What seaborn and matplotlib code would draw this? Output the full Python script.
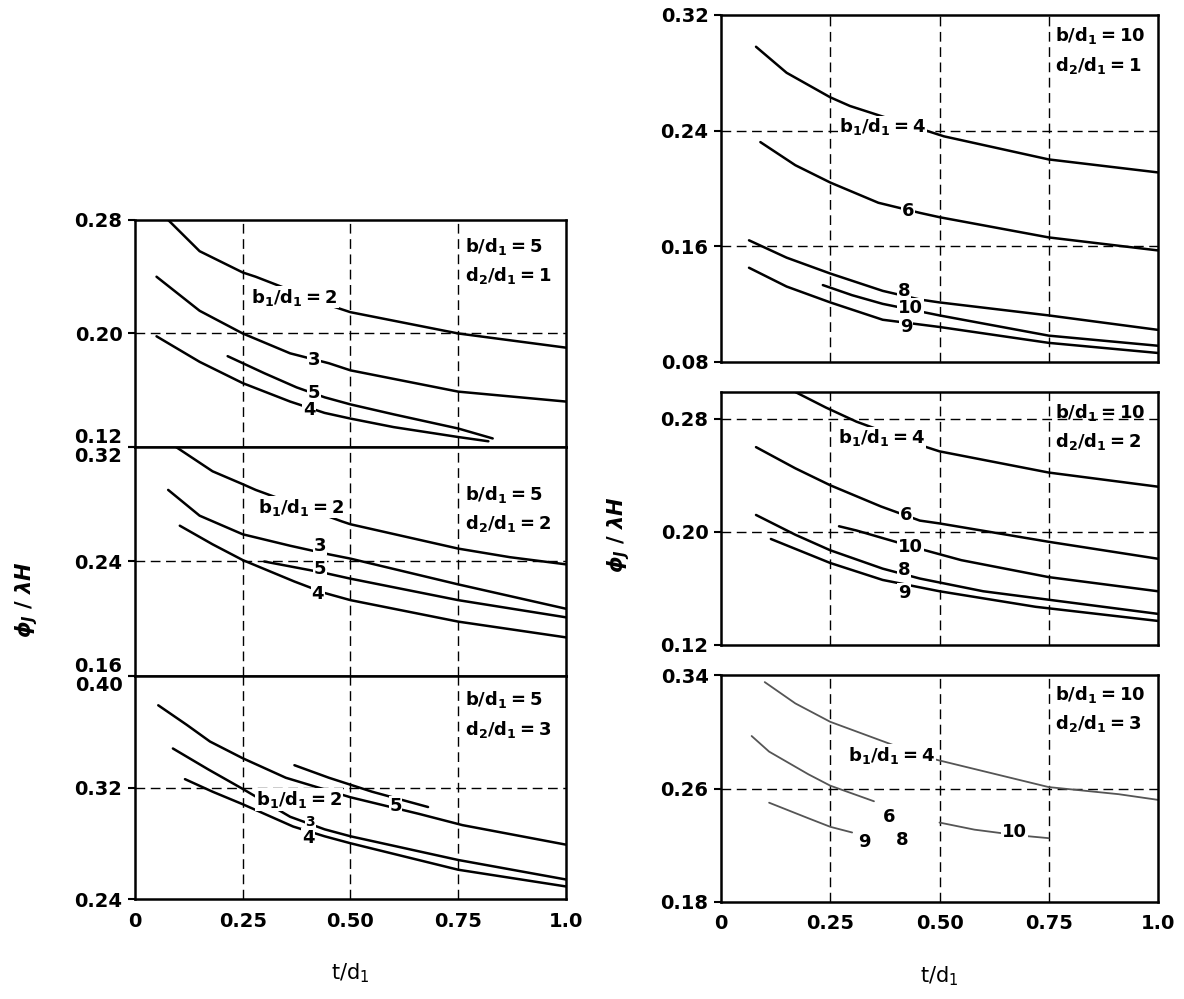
import matplotlib
matplotlib.use("Agg")
import matplotlib.pyplot as plt
import seaborn as sns

# ---------------------------------------------------------------------------
# Data (x = t/d1, y = phi_J / lambda H)
# ---------------------------------------------------------------------------

X_TICKS = [0, 0.25, 0.50, 0.75, 1.0]
X_TICK_LABELS = ["0", "0.25", "0.50", "0.75", "1.0"]

# left column, b/d1 = 5, d2/d1 = 1
L1_CURVES = {
    "2": ([0.077, 0.15, 0.25, 0.28, 0.45, 0.50, 0.75, 1.0],
          [0.280, 0.258, 0.243, 0.240, 0.220, 0.215, 0.200, 0.190]),
    "3": ([0.05, 0.15, 0.25, 0.36, 0.45, 0.50, 0.75, 1.0],
          [0.240, 0.216, 0.200, 0.186, 0.179, 0.174, 0.159, 0.152]),
    "5": ([0.215, 0.30, 0.375, 0.44, 0.50, 0.60, 0.75, 0.83],
          [0.184, 0.172, 0.162, 0.155, 0.150, 0.143, 0.133, 0.126]),
    "4": ([0.05, 0.15, 0.25, 0.36, 0.44, 0.50, 0.60, 0.75, 0.82],
          [0.198, 0.180, 0.165, 0.152, 0.144, 0.140, 0.134, 0.127, 0.124]),
}
# left column, b/d1 = 5, d2/d1 = 2
L2_CURVES = {
    "2": ([0.095, 0.18, 0.25, 0.28, 0.48, 0.50, 0.75, 0.87, 1.0],
          [0.320, 0.303, 0.294, 0.290, 0.268, 0.266, 0.249, 0.243, 0.238]),
    "3": ([0.077, 0.15, 0.25, 0.36, 0.45, 0.50, 0.75, 1.0],
          [0.290, 0.272, 0.259, 0.251, 0.245, 0.242, 0.224, 0.207]),
    "5": ([0.30, 0.37, 0.44, 0.50, 0.75, 1.0],
          [0.240, 0.236, 0.232, 0.228, 0.213, 0.201]),
    "4": ([0.104, 0.18, 0.25, 0.37, 0.44, 0.50, 0.75, 1.0],
          [0.265, 0.252, 0.241, 0.226, 0.218, 0.213, 0.198, 0.187]),
}
# left column, b/d1 = 5, d2/d1 = 3
L3_CURVES = {
    "2": ([0.054, 0.12, 0.174, 0.25, 0.35, 0.50, 0.66, 0.76, 0.88, 1.0],
          [0.379, 0.365, 0.353, 0.341, 0.327, 0.313, 0.301, 0.293, 0.286, 0.279]),
    "5": ([0.37, 0.45, 0.55, 0.68],
          [0.336, 0.327, 0.317, 0.306]),
    "3": ([0.088, 0.17, 0.25, 0.36, 0.44, 0.50, 0.75, 1.0],
          [0.348, 0.333, 0.319, 0.299, 0.290, 0.285, 0.268, 0.254]),
    "4": ([0.116, 0.18, 0.25, 0.367, 0.44, 0.50, 0.75, 1.0],
          [0.326, 0.317, 0.308, 0.292, 0.285, 0.280, 0.261, 0.249]),
}
# right column, b/d1 = 10, d2/d1 = 1
R1_CURVES = {
    "4": ([0.08, 0.15, 0.25, 0.295, 0.51, 0.75, 1.0],
          [0.298, 0.280, 0.263, 0.257, 0.236, 0.220, 0.211]),
    "6": ([0.09, 0.17, 0.25, 0.36, 0.455, 0.50, 0.75, 1.0],
          [0.232, 0.216, 0.204, 0.190, 0.183, 0.180, 0.166, 0.157]),
    "8": ([0.064, 0.15, 0.25, 0.37, 0.455, 0.50, 0.75, 1.0],
          [0.164, 0.152, 0.141, 0.129, 0.123, 0.121, 0.112, 0.102]),
    "10": ([0.233, 0.30, 0.37, 0.50, 0.75, 1.0],
           [0.133, 0.126, 0.120, 0.112, 0.098, 0.091]),
    "9": ([0.064, 0.15, 0.25, 0.37, 0.50, 0.75, 1.0],
          [0.145, 0.132, 0.121, 0.109, 0.104, 0.093, 0.086]),
}
# right column, b/d1 = 10, d2/d1 = 2
R2_CURVES = {
    "4": ([0.17, 0.24, 0.31, 0.47, 0.50, 0.75, 1.0],
          [0.299, 0.288, 0.278, 0.260, 0.257, 0.242, 0.232]),
    "6": ([0.08, 0.17, 0.25, 0.366, 0.455, 0.50, 0.75, 1.0],
          [0.260, 0.245, 0.233, 0.218, 0.208, 0.206, 0.193, 0.181]),
    "10": ([0.27, 0.31, 0.455, 0.55, 0.75, 1.0],
           [0.204, 0.201, 0.188, 0.180, 0.168, 0.158]),
    "8": ([0.08, 0.17, 0.25, 0.37, 0.455, 0.60, 0.75, 1.0],
          [0.212, 0.198, 0.187, 0.174, 0.167, 0.158, 0.152, 0.142]),
    "9": ([0.114, 0.25, 0.37, 0.50, 0.72, 1.0],
          [0.195, 0.178, 0.166, 0.158, 0.147, 0.137]),
}
# right column, b/d1 = 10, d2/d1 = 3 (faded in the original)
R3_CURVES = {
    "4": ([0.10, 0.17, 0.25, 0.47, 0.75, 0.91, 1.0],
          [0.335, 0.320, 0.307, 0.282, 0.261, 0.256, 0.252]),
    "6": ([0.07, 0.11, 0.20, 0.25, 0.35],
          [0.297, 0.286, 0.270, 0.262, 0.251]),
    "10": ([0.50, 0.58, 0.68, 0.75],
           [0.236, 0.231, 0.227, 0.225]),
    "9": ([0.11, 0.20, 0.25, 0.30],
          [0.250, 0.239, 0.233, 0.229]),
}

# curve labels: (text, x, y, fontsize)
L1_LABELS = [(r"$\mathregular{b_1/d_1 = 2}$", 0.27, 0.2257, 13), ("3", 0.40, 0.181, 13),
             ("5", 0.40, 0.158, 13), ("4", 0.39, 0.146, 13)]
L2_LABELS = [(r"$\mathregular{b_1/d_1 = 2}$", 0.285, 0.278, 13), ("3", 0.415, 0.251, 13),
             ("5", 0.415, 0.235, 13), ("4", 0.41, 0.217, 13)]
L3_LABELS = [(r"$\mathregular{b_1/d_1 = 2}$", 0.28, 0.3115, 13), ("5", 0.59, 0.307, 13),
             ("3", 0.395, 0.2955, 10), ("4", 0.387, 0.284, 13)]
R1_LABELS = [(r"$\mathregular{b_1/d_1 = 4}$", 0.27, 0.2425, 13), ("6", 0.414, 0.184, 13),
             ("8", 0.405, 0.129, 13), ("10", 0.405, 0.117, 13), ("9", 0.41, 0.104, 13)]
R2_LABELS = [(r"$\mathregular{b_1/d_1 = 4}$", 0.268, 0.2665, 13), ("6", 0.41, 0.212, 13),
             ("10", 0.405, 0.189, 13), ("8", 0.405, 0.173, 13), ("9", 0.405, 0.157, 13)]
R3_LABELS = [(r"$\mathregular{b_1/d_1 = 4}$", 0.29, 0.2836, 13), ("6", 0.37, 0.240, 13),
             ("10", 0.643, 0.229, 13), ("9", 0.313, 0.222, 13), ("8", 0.40, 0.224, 13)]

L_TITLE = r"$\mathregular{b/d_1 = 5}$"
R_TITLE = r"$\mathregular{b/d_1 = 10}$"

# ---------------------------------------------------------------------------

sns.set_theme(style="ticks")
plt.rcParams["font.family"] = ["DejaVu Sans"]
plt.rcParams["mathtext.fontset"] = "custom"
plt.rcParams["mathtext.rm"] = "DejaVu Sans:bold"
plt.rcParams["mathtext.it"] = "DejaVu Sans:italic:bold"
plt.rcParams["mathtext.bf"] = "DejaVu Sans:bold"
for key in ("text.color", "axes.labelcolor", "xtick.color", "ytick.color"):
    plt.rcParams[key] = "black"

fig = plt.figure(figsize=(11.84, 9.99), dpi=100)


def draw_panel(ax, curves, labels, title, d2, ylim, yticks, gridy,
               title_xy, faded=False, bottom=False):
    color = "#555555" if faded else "black"
    lw = 1.3 if faded else 1.8
    for key, (xs, ys) in curves.items():
        sns.lineplot(x=xs, y=ys, ax=ax, color=color, linewidth=lw,
                     estimator=None, sort=False, legend=False)

    for txt, x, y, fs in labels:
        ax.text(x, y, txt, fontsize=fs, fontweight="bold", va="center",
                ha="left", color="black",
                bbox=dict(facecolor="white", edgecolor="none", pad=0.5))

    # parameter block in the top-right corner
    ax.annotate(title, xy=title_xy, xycoords="axes fraction",
                fontsize=13, fontweight="bold", ha="left", va="top")
    ax.annotate(r"$\mathregular{d_2/d_1 = %s}$" % d2, xy=title_xy,
                xycoords="axes fraction", xytext=(0, -21),
                textcoords="offset points", fontsize=13, fontweight="bold",
                ha="left", va="top")

    ax.set_xlim(0, 1.0)
    ax.set_ylim(*ylim)
    ax.set_yticks(yticks, [f"{v:.2f}" for v in yticks])
    ax.set_xticks(X_TICKS, X_TICK_LABELS)

    # dashed reference lines
    for gx in X_TICKS[1:-1]:
        ax.axvline(gx, color="black", lw=1.0, ls=(0, (7, 4)), zorder=0)
    for gy in gridy:
        ax.axhline(gy, color="black", lw=1.0, ls=(0, (7, 4)), zorder=0)

    ax.tick_params(axis="y", direction="out", length=5, width=1.5,
                   labelsize=14, pad=4)
    ax.tick_params(axis="x", length=0, labelsize=14, pad=9,
                   labelbottom=bottom)
    for lab in ax.get_yticklabels() + ax.get_xticklabels():
        lab.set_fontweight("bold")
    for sp in ax.spines.values():
        sp.set_visible(True)
        sp.set_linewidth(1.8)
        sp.set_color("black")
    ax.set_xlabel("")
    ax.set_ylabel("")
    if bottom:
        ax.set_xlabel(r"$\mathregular{t/d_1}$", fontsize=15, labelpad=22)


# left column: three panels stacked without gaps
lx, lw_ = 0.114, 0.364
ax_l1 = fig.add_axes([lx, 0.5526, lw_, 0.2272])
ax_l2 = fig.add_axes([lx, 0.3233, lw_, 0.2293])
ax_l3 = fig.add_axes([lx, 0.1001, lw_, 0.2232])

draw_panel(ax_l1, L1_CURVES, L1_LABELS, L_TITLE, "1", (0.12, 0.28),
           [0.12, 0.20, 0.28], [0.20], (0.765, 0.93))
draw_panel(ax_l2, L2_CURVES, L2_LABELS, L_TITLE, "2", (0.16, 0.32),
           [0.16, 0.24, 0.32], [0.24], (0.765, 0.84))
draw_panel(ax_l3, L3_CURVES, L3_LABELS, L_TITLE, "3", (0.24, 0.40),
           [0.24, 0.32, 0.40], [0.32], (0.765, 0.94), bottom=True)

# shared boundary labels: upper one sits above the line, lower one below
ax_l1.get_yticklabels()[0].set_va("bottom")
ax_l2.get_yticklabels()[-1].set_va("top")
ax_l2.get_yticklabels()[0].set_va("bottom")
ax_l3.get_yticklabels()[-1].set_va("top")

# right column: three panels with small gaps
rx, rw = 0.609, 0.369
ax_r1 = fig.add_axes([rx, 0.638, rw, 0.347])
ax_r2 = fig.add_axes([rx, 0.3544, rw, 0.2532])
ax_r3 = fig.add_axes([rx, 0.0971, rw, 0.2272])

draw_panel(ax_r1, R1_CURVES, R1_LABELS, R_TITLE, "1", (0.08, 0.32),
           [0.08, 0.16, 0.24, 0.32], [0.16, 0.24], (0.765, 0.97))
draw_panel(ax_r2, R2_CURVES, R2_LABELS, R_TITLE, "2", (0.12, 0.299),
           [0.12, 0.20, 0.28], [0.20, 0.28], (0.765, 0.96))
draw_panel(ax_r3, R3_CURVES, R3_LABELS, R_TITLE, "3", (0.18, 0.34),
           [0.18, 0.26, 0.34], [0.26], (0.765, 0.96), faded=True, bottom=True)

# y axis titles
fig.text(0.022, 0.40, r"$\phi_J\ /\ \lambda H$", rotation=90, fontsize=15,
         ha="center", va="center")
fig.text(0.522, 0.465, r"$\phi_J\ /\ \lambda H$", rotation=90, fontsize=15,
         ha="center", va="center")

fig.savefig("out.png", dpi=100, facecolor="white")
